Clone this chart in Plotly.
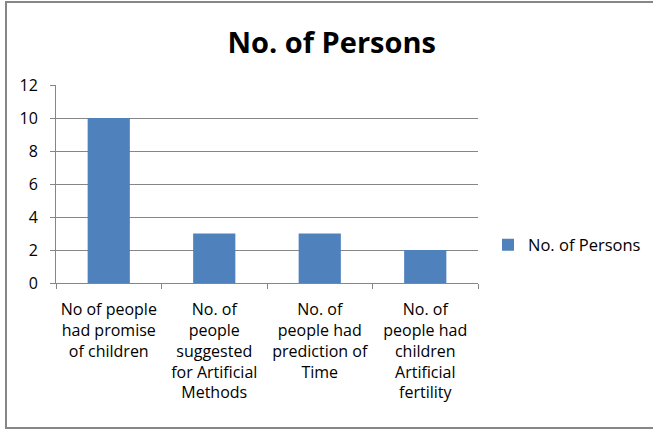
import plotly.graph_objects as go

categories = [
    "No of people<br>had promise<br>of children",
    "No. of<br>people<br>suggested<br>for Artificial<br>Methods",
    "No. of<br>people had<br>prediction of<br>Time",
    "No. of<br>people had<br>children<br>Artificial<br>fertility",
]
values = [10, 3, 3, 2]
series_name = "No. of Persons"
y_ticks = [0, 2, 4, 6, 8, 10, 12]

fig = go.Figure()
fig.add_trace(go.Bar(
    x=categories, y=values, name=series_name,
    marker=dict(color="#4F81BD", line=dict(width=0)),
    showlegend=True,
))

font_family = "Open Sans, Liberation Sans, sans-serif"

L, T, W, H = 56, 85, 422, 198

fig.update_layout(
    width=653, height=432,
    margin=dict(l=L, r=653 - L - W, t=T, b=432 - T - H, autoexpand=False),
    paper_bgcolor="white", plot_bgcolor="white",
    bargap=0.6,
    font=dict(family=font_family, size=16, color="#000000"),
    title=dict(text="<b>No. of Persons</b>", x=0.508, xanchor="center",
               y=0.90, yanchor="middle",
               font=dict(family=font_family, size=29, color="#000000")),
    showlegend=True,
    legend=dict(x=(488 - L) / W, xanchor="left", y=(T + H - 245) / H, yanchor="middle",
                font=dict(size=16.5), itemwidth=30, itemsizing="constant",
                bgcolor="rgba(0,0,0,0)"),
    xaxis=dict(
        showline=True, linecolor="#868686", linewidth=1,
        ticks="outside", tickson="boundaries", ticklen=5, tickcolor="#868686",
        tickangle=0, showgrid=False, fixedrange=True, automargin=False,
        tickfont=dict(size=16), ticklabelstandoff=12,
    ),
    yaxis=dict(
        range=[0, 12], tickvals=y_ticks, showgrid=True, gridcolor="#868686",
        gridwidth=1, showline=True, linecolor="#868686", linewidth=1,
        ticks="outside", ticklen=5, tickcolor="#868686", zeroline=False,
        tickfont=dict(size=16), fixedrange=True, automargin=False,
        ticklabelstandoff=9,
    ),
    shapes=[dict(type="rect", xref="paper", yref="paper",
                 x0=(6 - L) / W, x1=(660 - L) / W,
                 y0=(T + H - 428) / H, y1=(T + H - 2) / H,
                 line=dict(color="#868686", width=2))],
)

fig.write_html("out.html", config={"displayModeBar": False},
               post_script="document.body.style.margin='0';")
